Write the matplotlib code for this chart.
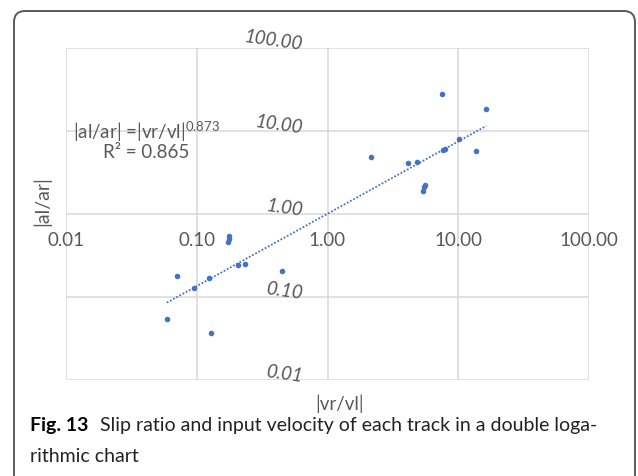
import numpy as np
import matplotlib
matplotlib.use("Agg")
import matplotlib.pyplot as plt
from matplotlib.patches import FancyBboxPatch
from matplotlib.transforms import IdentityTransform, ScaledTranslation
from matplotlib.ticker import NullLocator

plt.rcParams["font.family"] = ["Lato", "DejaVu Sans"]
plt.rcParams["mathtext.fontset"] = "custom"
plt.rcParams["mathtext.rm"] = "Lato"

# |vr/vl| and |al/ar| for each track
vr_vl = [0.059, 0.0704, 0.0956, 0.1237, 0.128, 0.175, 0.175, 0.173, 0.205, 0.233,
         0.450, 2.17, 4.14, 4.80, 5.59, 5.45, 5.42, 7.45, 7.62, 7.89, 10.2, 13.6, 16.4]
al_ar = [0.054, 0.177, 0.1256, 0.1676, 0.036, 0.543, 0.495, 0.451, 0.238, 0.245,
         0.205, 4.83, 4.12, 4.27, 2.22, 2.08, 1.86, 27.8, 5.87, 6.03, 7.96, 5.64, 18.5]

# power-law trend: |al/ar| = |vr/vl|^0.873
trend_exp = 0.873
trend_r2 = 0.865

decade_ticks = [0.01, 0.1, 1, 10, 100]
decade_labels = ["0.01", "0.10", "1.00", "10.00", "100.00"]

W, H = 638, 476
fig = plt.figure(figsize=(W / 100, H / 100), dpi=100)
fig.patch.set_facecolor("white")

# rounded frame around chart and caption
frame = FancyBboxPatch((14, -30), 621, 476 - 11 + 30,
                       boxstyle="round,pad=0,rounding_size=11",
                       transform=IdentityTransform(), facecolor="none",
                       edgecolor="#5a5a5a", linewidth=1.4)
fig.patches.append(frame)

ax = fig.add_axes([66 / W, 1 - 379.5 / H, 523 / W, 331.5 / H])
ax.set_xscale("log")
ax.set_yscale("log")
ax.set_xlim(0.01, 100)
ax.set_ylim(0.01, 100)

for s in ax.spines.values():
    s.set_visible(False)
ax.spines["bottom"].set_position(("data", 1))

ax.xaxis.set_minor_locator(NullLocator())
ax.yaxis.set_minor_locator(NullLocator())
ax.set_xticks(decade_ticks, labels=decade_labels)
ax.set_yticks(decade_ticks, labels=[])
ax.tick_params(axis="x", length=0, pad=13.5, labelsize=13.5, labelcolor="#595959")
ax.tick_params(axis="y", length=0)
ax.grid(True, color="#d9d9d9", linewidth=1.1)
ax.set_axisbelow(True)

# vertical-axis labels sit beside the x=1 line, slanted
ylab_tr = ax.transData + ScaledTranslation(-0.25, 0.03, fig.dpi_scale_trans)
for v, lab in zip(decade_ticks, decade_labels):
    ax.text(1, v, lab, transform=ylab_tr, ha="right", va="center",
            rotation=-8, rotation_mode="anchor", fontsize=13.5,
            style="italic", color="#595959", clip_on=False)

# trend line over the data range
xt = np.logspace(np.log10(min(vr_vl)), np.log10(max(vr_vl)), 200)
ax.plot(xt, xt ** trend_exp, linestyle=(0, (1, 1)), color="#4472c4", linewidth=1.3)

ax.plot(vr_vl, al_ar, linestyle="none", marker="o", markersize=4,
        color="#4472c4", markeredgewidth=0)

ax.text(0.153, 0.747, "|al/ar| =|vr/vl|$^{\\mathrm{0.873}}$", transform=ax.transAxes,
        ha="center", va="center", fontsize=13.5, color="#595959")
ax.text(0.153, 0.686, f"R² = {trend_r2}", transform=ax.transAxes,
        ha="center", va="center", fontsize=13.5, color="#595959")

fig.text(42 / W, 1 - 201 / H, "|al/ar|", rotation=90, ha="center", va="center",
         fontsize=14, color="#595959")
fig.text(340 / W, 1 - 404 / H, "|vr/vl|", ha="center", va="center",
         fontsize=13.5, color="#595959")

# caption
fig.canvas.draw()
r = fig.canvas.get_renderer()
t1 = fig.text(30 / W, 1 - 426 / H, "Fig. 13", fontsize=14, fontweight="bold",
              va="center", ha="left", color="black")
bb = t1.get_window_extent(r)
fig.text((bb.x1 + 12) / W, 1 - 426 / H,
         "Slip ratio and input velocity of each track in a double loga-",
         fontsize=14, va="center", ha="left", color="#222222")
fig.text(30 / W, 1 - 457 / H, "rithmic chart", fontsize=14, va="center",
         ha="left", color="#222222")

fig.savefig("out.png", dpi=100, facecolor="white")
